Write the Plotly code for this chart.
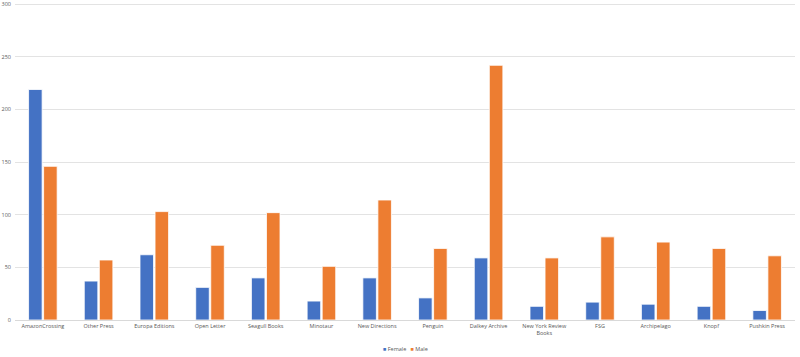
import plotly.graph_objects as go

categories = ["AmazonCrossing", "Other Press", "Europa Editions", "Open Letter", "Seagull Books",
              "Minotaur", "New Directions", "Penguin", "Dalkey Archive", "New York Review<br>Books",
              "FSG", "Archipelago", "Knopf", "Pushkin Press"]
female = [219, 37, 62, 31, 40, 18, 40, 21, 59, 13, 17, 15, 13, 9]
male = [146, 57, 103, 71, 102, 51, 114, 68, 242, 59, 79, 74, 68, 61]
y_ticks = [0, 50, 100, 150, 200, 250, 300]
series_names = ["Female", "Male"]
series_colors = ["#4472C4", "#ED7D31"]

fig = go.Figure()
for name, vals, col in zip(series_names, [female, male], series_colors):
    fig.add_bar(name=name, x=categories, y=vals, marker_color=col,
                marker_line=dict(color="white", width=0.8), showlegend=False)

legend_text = "   ".join(
    f"<span style='color:{c}'>■</span> {n}" for n, c in zip(series_names, series_colors))
fig.add_annotation(text=legend_text, xref="paper", yref="paper", x=0.5, y=-0.09,
                   xanchor="center", yanchor="middle", showarrow=False,
                   font=dict(size=5.5, color="#595959"))

fig.update_layout(
    width=800, height=357,
    margin=dict(l=15, r=5, t=3, b=37, autoexpand=False),
    paper_bgcolor="white", plot_bgcolor="white",
    barmode="group", bargap=0.46, bargroupgap=0.1,
    font=dict(family="Open Sans, Liberation Sans, sans-serif", size=5.5, color="#595959"),
    xaxis=dict(showgrid=False, showline=True, linecolor="#D9D9D9", linewidth=1,
               ticks="", automargin=False, tickfont=dict(size=5.5, color="#595959")),
    yaxis=dict(range=[0, 301.2], tickvals=y_ticks, showgrid=True, gridcolor="#E3E3E3",
               gridwidth=1, zeroline=False, showline=False, ticks="", automargin=False,
               tickfont=dict(size=5.5, color="#595959"), ticklabelstandoff=3),
)

fig.write_html("out.html", config={"displayModeBar": False},
               post_script="document.body.style.margin='0';document.body.style.overflow='hidden';")
